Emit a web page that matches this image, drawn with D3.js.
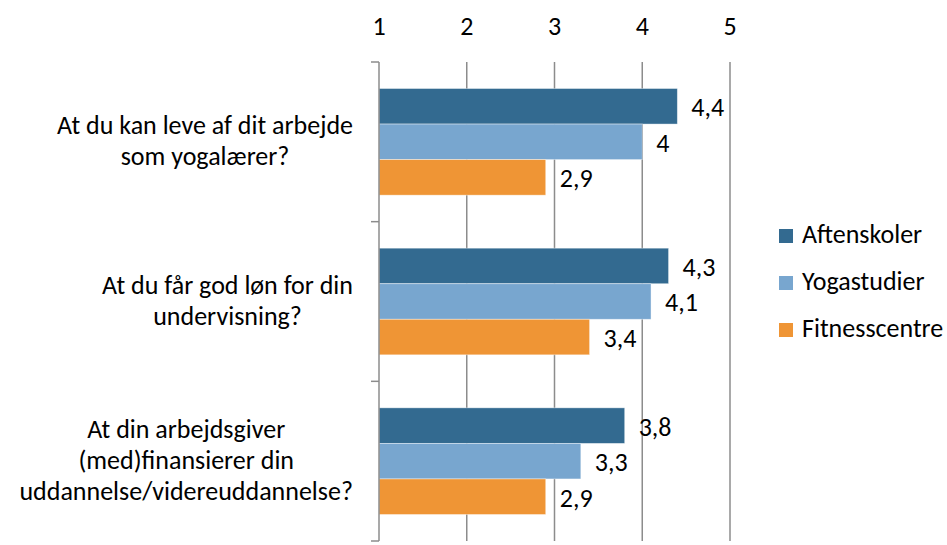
<!DOCTYPE html>
<html>
<head>
<meta charset="utf-8">
<script src="https://cdn.jsdelivr.net/npm/d3@7"></script>
<style>
  body { margin: 0; background: #fff; }
  text { font-family: Carlito, Calibri, "Liberation Sans", sans-serif; fill: #000; }
</style>
</head>
<body>
<svg id="chart" width="947" height="545"></svg>
<script>
// data
var categories = [
  ["At du kan leve af dit arbejde", "som yogalærer?"],
  ["At du får god løn for din", "undervisning?"],
  ["At din arbejdsgiver", "(med)finansierer din", "uddannelse/videreuddannelse?"]
]
var seriesNames = ["Aftenskoler", "Yogastudier", "Fitnesscentre"]
var aftenskoler = [4.4, 4.3, 3.8]
var yogastudier = [4.0, 4.1, 3.3]
var fitnesscentre = [2.9, 3.4, 2.9]
var ticks = [1, 2, 3, 4, 5]
var colors = ["#336a90", "#78a6cf", "#ef9535"]

var margin = { top: 62, left: 379, right: 217, bottom: 4 }
var width = 947, height = 545
var fontSize = 26, lineH = 31

var svg = d3.select("#chart")
var series = [aftenskoler, yogastudier, fitnesscentre]

var x = d3.scaleLinear().domain([1, 5]).range([margin.left, width - margin.right])
var y0 = d3.scaleBand().domain(d3.range(categories.length)).range([margin.top, height - margin.bottom])
  .paddingInner(0.332).paddingOuter(0.166)
var y1 = d3.scaleBand().domain(d3.range(seriesNames.length)).range([0, y0.bandwidth()])

// vertical gridlines
svg.append("g").selectAll("line").data(ticks.slice(1)).join("line")
  .attr("x1", d => x(d)).attr("x2", d => x(d))
  .attr("y1", margin.top).attr("y2", height - margin.bottom)
  .attr("stroke", "#8c8c8c").attr("stroke-width", 1.5)

// top tick labels
svg.append("g").selectAll("text").data(ticks).join("text")
  .attr("x", d => x(d)).attr("y", 35)
  .attr("text-anchor", "middle").attr("font-size", fontSize)
  .text(d => d)

// bars
var groups = svg.append("g").selectAll("g").data(categories).join("g")
  .attr("transform", (d, i) => "translate(0," + y0(i) + ")")
groups.selectAll("rect").data((d, i) => series.map((s, k) => ({ k: k, v: s[i] }))).join("rect")
  .attr("x", x(1)).attr("y", d => y1(d.k))
  .attr("width", d => x(d.v) - x(1)).attr("height", y1.bandwidth())
  .attr("fill", d => colors[d.k]).attr("stroke", "#fff").attr("stroke-opacity", 0.5).attr("stroke-width", 0.8)
groups.selectAll("text").data((d, i) => series.map((s, k) => ({ k: k, v: s[i] }))).join("text")
  .attr("x", d => x(d.v) + 14).attr("y", d => y1(d.k) + y1.bandwidth() / 2 + 10)
  .attr("font-size", fontSize)
  .text(d => String(d.v).replace(".", ","))

// left axis line with ticks at category boundaries
var bounds = d3.range(categories.length + 1).map(i => margin.top + i * y0.step())
svg.append("line").attr("x1", x(1)).attr("x2", x(1))
  .attr("y1", margin.top).attr("y2", height - margin.bottom)
  .attr("stroke", "#8c8c8c").attr("stroke-width", 1.5)
svg.append("g").selectAll("line").data(bounds).join("line")
  .attr("x1", x(1) - 8).attr("x2", x(1))
  .attr("y1", d => d).attr("y2", d => d)
  .attr("stroke", "#8c8c8c").attr("stroke-width", 1.5)

// category labels: lines centred in a block that is right-aligned
var labelRight = x(1) - 26
categories.forEach((lines, i) => {
  var cy = y0(i) + y0.bandwidth() / 2
  var g = svg.append("g")
  var t = g.selectAll("text").data(lines).join("text")
    .attr("font-size", fontSize).attr("text-anchor", "middle")
    .attr("y", (d, j) => cy - (lines.length - 1) * lineH / 2 + j * lineH + 8)
    .text(d => d)
  var maxW = d3.max(t.nodes(), n => n.getComputedTextLength())
  t.attr("x", labelRight - maxW / 2)
})

// legend
var legend = svg.append("g").selectAll("g").data(seriesNames).join("g")
  .attr("transform", (d, i) => "translate(779," + (229 + i * 47) + ")")
legend.append("rect").attr("width", 14).attr("height", 14).attr("fill", (d, i) => colors[i])
legend.append("text").attr("x", 23).attr("y", 14).attr("font-size", fontSize).text(d => d)
</script>
</body>
</html>
